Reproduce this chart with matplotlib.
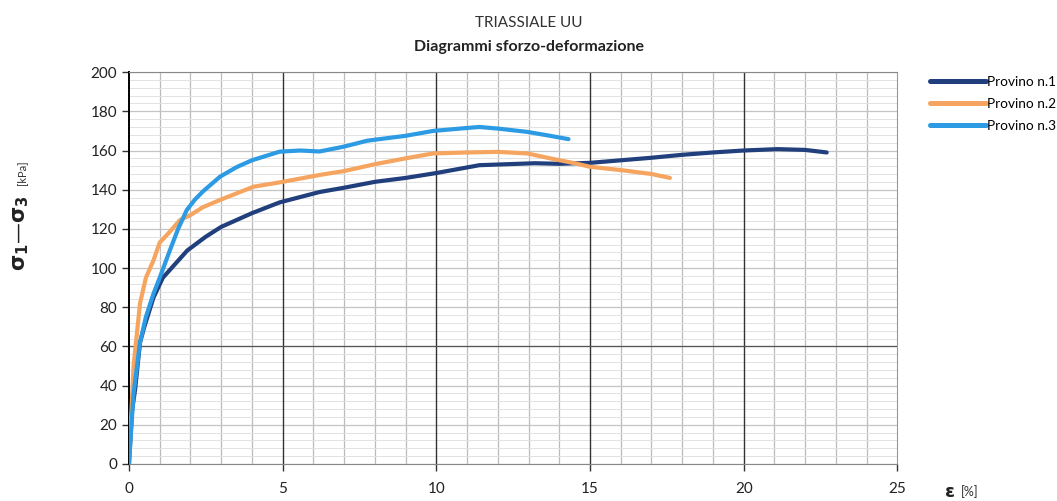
import numpy as np
import matplotlib.pyplot as plt
import matplotlib as mpl
from matplotlib.ticker import MultipleLocator

mpl.rcParams['font.family'] = ['Lato', 'DejaVu Sans']

# Provino n.1
eps_1 = [0, 0.1, 0.2, 0.36, 0.5, 0.8, 1.1, 1.5, 1.9, 2.5, 3.0, 4.0, 4.9, 6.2, 7.0,
         8.0, 9.0, 10.0, 11.4, 13.2, 14.0, 15.0, 16.0, 17.0, 18.0, 19.0, 20.0,
         21.1, 22.0, 22.7]
sig_1 = [0, 27, 38, 62, 70, 85, 95, 102, 109, 116, 121, 128, 133.5, 138.8, 141,
         144, 146, 148.5, 152.5, 153.5, 153.2, 153.7, 155, 156.3, 157.8, 159, 160,
         160.7, 160.3, 159]

# Provino n.2
eps_2 = [0, 0.15, 0.36, 0.55, 0.8, 1.0, 1.3, 1.66, 2.0, 2.4, 3.0, 4.05, 5.0, 6.2,
         7.0, 8.0, 9.0, 9.9, 11.0, 12.0, 12.96, 13.7, 14.5, 15.0, 16.0, 17.0, 17.6]
sig_2 = [0, 50, 82, 95, 104, 113, 118, 124.5, 127, 131, 135, 141.5, 144, 147.5,
         149.5, 153, 156, 158.5, 159, 159.3, 158.5, 156, 153.5, 151.7, 150, 148, 146]

# Provino n.3
eps_3 = [0, 0.15, 0.36, 0.55, 0.8, 1.0, 1.33, 1.6, 1.88, 2.15, 2.4, 2.96, 3.5, 4.0,
         4.9, 5.57, 6.2, 7.0, 7.75, 9.0, 9.9, 11.0, 11.4, 12.0, 12.96, 13.7, 14.3]
sig_3 = [0, 36, 62, 75, 87, 95, 109, 120, 129.6, 135, 139, 146.6, 151.5, 155,
         159.4, 160, 159.5, 162, 165, 167.5, 170, 171.5, 172, 171.2, 169.5, 167.5,
         165.8]

labels = ['Provino n.1', 'Provino n.2', 'Provino n.3']
colors = ['#213F7C', '#F5A55F', '#2C9BE3']

fig = plt.figure(figsize=(10.57, 5.01), dpi=100, facecolor='white')
ax = fig.add_axes([0.122, 0.074, 0.727, 0.782])

for e, s, lab, c in zip([eps_1, eps_2, eps_3], [sig_1, sig_2, sig_3], labels, colors):
    ax.plot(e, s, color=c, lw=3, label=lab, solid_capstyle='round', zorder=3)

ax.set_xlim(0, 25)
ax.set_ylim(0, 200)
ax.xaxis.set_major_locator(MultipleLocator(5))
ax.xaxis.set_minor_locator(MultipleLocator(1))
ax.yaxis.set_major_locator(MultipleLocator(20))
ax.yaxis.set_minor_locator(MultipleLocator(4))

ax.grid(which='minor', axis='x', color='#bbbbbb', lw=0.9)
ax.grid(which='major', axis='y', color='#c4c4c4', lw=0.9)
ax.grid(which='minor', axis='y', color='#e2e2e2', lw=0.7)
ax.set_axisbelow(True)
for xv in [5, 10, 15, 20]:
    ax.axvline(xv, color='#333333', lw=1.0, zorder=2)
ax.axhline(60, color='#555555', lw=0.9, zorder=2)

ax.spines['left'].set_color('black')
ax.spines['left'].set_linewidth(1.4)
ax.spines['bottom'].set_color('#888888')
ax.spines['top'].set_color('#888888')
ax.spines['right'].set_color('#999999')

ax.tick_params(which='major', length=5, width=1, colors='#333333', labelsize=11,
               labelcolor='#222222')
ax.tick_params(which='minor', length=0)
ax.tick_params(axis='x', pad=8)

fig.text(0.5, 0.955, 'TRIASSIALE UU', ha='center', va='center', fontsize=11,
         color='#333333')
fig.text(0.5, 0.907, 'Diagrammi sforzo-deformazione', ha='center', va='center',
         fontsize=11.5, fontweight='bold', color='#222222')

fig.text(0.02, 0.535, r'$\mathbf{\sigma_1}$—$\mathbf{\sigma_3}$', rotation=90,
         ha='center', va='center', fontsize=15, fontweight='bold', color='#222222')
fig.text(0.02, 0.63, '[kPa]', rotation=90, ha='center', va='bottom',
         fontsize=8, color='#333333')
fig.text(0.893, 0.018, r'$\mathbf{\varepsilon}$', ha='left', va='center',
         fontsize=13, fontweight='bold', color='#222222')
fig.text(0.909, 0.018, '[%]', ha='left', va='center', fontsize=9, color='#333333')

leg = ax.legend(loc='upper left', bbox_to_anchor=(1.043, 0.99), frameon=False,
                borderpad=0, borderaxespad=0, handlelength=4.1, handletextpad=0.05,
                labelspacing=0.72, fontsize=9.8)
for ln in leg.get_lines():
    ln.set_linewidth(3.6)

plt.savefig('out.png', dpi=100)
